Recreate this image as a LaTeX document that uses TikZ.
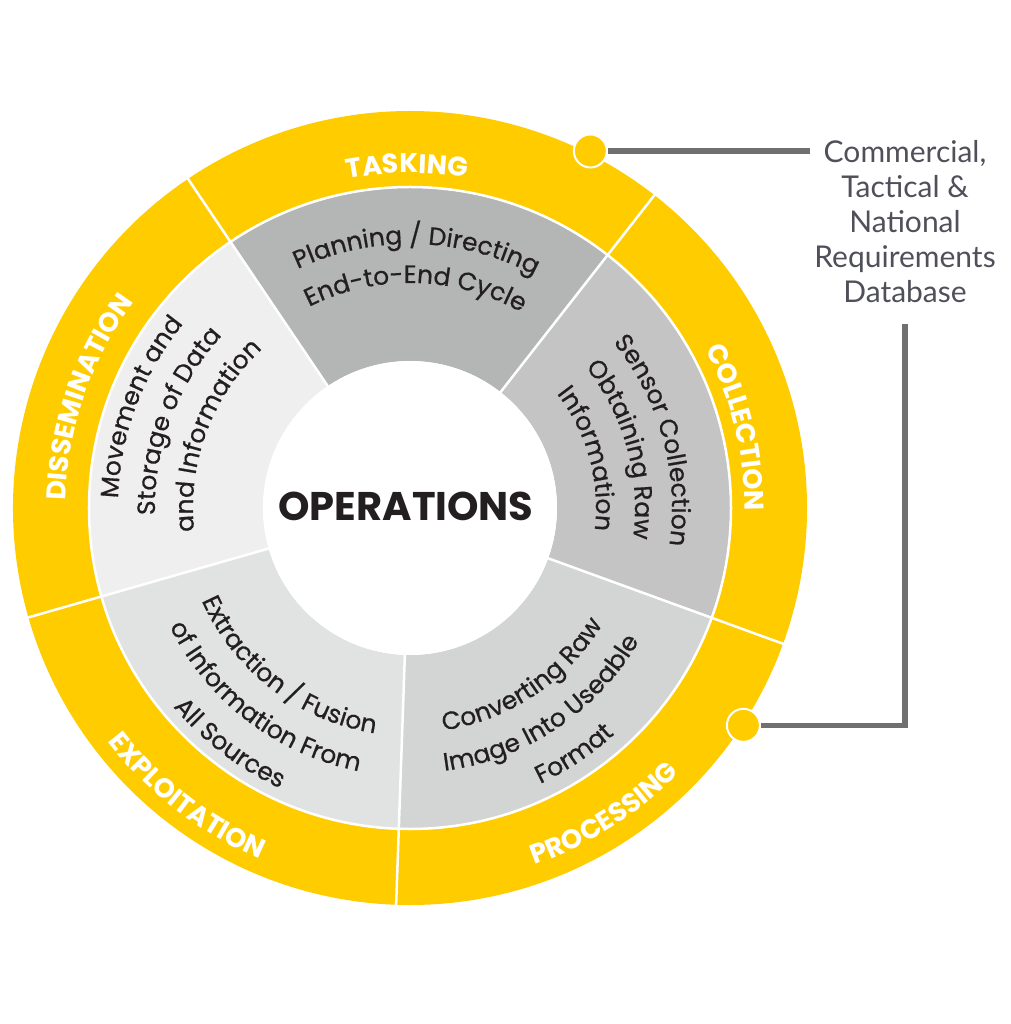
\documentclass[tikz,border=0pt]{standalone}
\usepackage{fontspec}
\setmainfont{Poppins}
\newfontfamily\dbfont{Lato}
\newfontfamily\innerfamily{Poppins}[FakeBold=0.6]
\usetikzlibrary{decorations.text}
\definecolor{ringyellow}{RGB}{255,204,0}
\definecolor{segA}{RGB}{180,181,181}
\definecolor{segB}{RGB}{196,196,196}
\definecolor{segC}{RGB}{211,213,213}
\definecolor{segD}{RGB}{225,226,226}
\definecolor{segE}{RGB}{239,239,239}
\definecolor{inkdark}{RGB}{35,31,32}
\definecolor{dbgray}{RGB}{80,80,90}
\definecolor{conngray}{RGB}{112,112,112}
\newcommand\mysector[5]{\fill[#1] (#2:#4pt) arc[start angle=#2, end angle=#3, radius=#4pt] -- (#3:#5pt) arc[start angle=#3, end angle=#2, radius=#5pt] -- cycle;}
\newcommand\innerfnt{\innerfamily\fontsize{25}{25}\selectfont}
\newcommand\ringfnt{\fontsize{27}{27}\selectfont\bfseries}
% clockwise arc text (tops outward): radius, centre angle, text, colour
\newcommand\cwtext[4]{\path[decorate, decoration={text along path, text align=center, text color=#4, text={#3}}] ({#2+80}:#1pt) arc[start angle={#2+80}, end angle={#2-80}, radius=#1pt];}
% counter-clockwise arc text (tops inward)
\newcommand\ccwtext[4]{\path[decorate, decoration={text along path, text align=center, text color=#4, text={#3}}] ({#2-80}:#1pt) arc[start angle={#2-80}, end angle={#2+80}, radius=#1pt];}
\begin{document}
\begin{tikzpicture}[x=1pt,y=1pt,
  conn/.style={draw=conngray, line width=5.5pt},
  dotnode/.style={circle, fill=ringyellow, draw=white, line width=2pt, minimum size=33pt, inner sep=0pt}]
\useasboundingbox (-410,-516) rectangle (600,508);
\fill[white] (-410,-516) rectangle (600,508);
% outer yellow ring
\mysector{ringyellow}{52}{124}{320}{397}
\mysector{ringyellow}{-20}{52}{320}{397}
\mysector{ringyellow}{-92}{-20}{320}{397}
\mysector{ringyellow}{196}{268}{320}{397}
\mysector{ringyellow}{124}{196}{320}{397}
% inner grey ring
\mysector{segA}{52}{124}{147}{320}
\mysector{segB}{-20}{52}{147}{320}
\mysector{segC}{-92}{-20}{147}{320}
\mysector{segD}{196}{268}{147}{320}
\mysector{segE}{124}{196}{147}{320}
% white dividers
\foreach \a in {52,124,196,268,340} \draw[white, line width=2.5pt] (\a:140pt) -- (\a:400pt);
\draw[white, line width=2.5pt] (0,0) circle[radius=321pt];
\node[circle, fill=white, minimum size=294pt, inner sep=0pt] (core) at (0,0) {};
\node[font=\fontsize{40}{40}\selectfont\bfseries, text=inkdark, inner sep=0pt] (ops) at (-4,2) {OPERATIONS};
% ring labels
\cwtext{335}{90.5}{|\ringfnt|TASKING}{white}
\cwtext{335}{13.9}{|\ringfnt|COLLECTION}{white}
\ccwtext{378}{-57.6}{|\ringfnt|PROCESSING}{white}
\ccwtext{382}{232.3}{|\ringfnt|EXPLOITATION}{white}
\cwtext{344}{161}{|\ringfnt|DISSEMINATION}{white}
% inner texts
\cwtext{264}{88.5}{|\innerfnt|Planning / Directing}{inkdark}
\cwtext{225}{88.5}{|\innerfnt|End-to-End Cycle}{inkdark}
\cwtext{262}{15.5}{|\innerfnt|Sensor Collection}{inkdark}
\cwtext{225}{15.5}{|\innerfnt|Obtaining Raw}{inkdark}
\cwtext{186}{15.5}{|\innerfnt|Information}{inkdark}
\ccwtext{225}{-56.3}{|\innerfnt|Converting Raw}{inkdark}
\ccwtext{265}{-56.3}{|\innerfnt|Image Into Useable}{inkdark}
\ccwtext{305}{-56.3}{|\innerfnt|Format}{inkdark}
\ccwtext{228}{232.6}{|\innerfnt|Extraction / Fusion}{inkdark}
\ccwtext{268}{232.6}{|\innerfnt|of Information From}{inkdark}
\ccwtext{309}{232.6}{|\innerfnt|All Sources}{inkdark}
\cwtext{292}{159.5}{|\innerfnt|Movement and}{inkdark}
\cwtext{255}{159.5}{|\innerfnt|Storage of Data}{inkdark}
\cwtext{217}{159.5}{|\innerfnt|and Information}{inkdark}
% database text and connectors
\node[font=\dbfont\fontsize{30}{35}\selectfont, text=dbgray, align=center, anchor=north, inner sep=4pt] (db) at (495,372) {Commercial,\\Tactical \&\\National\\Requirements\\Database};
\node[dotnode] (dot1) at (63.2:400pt) {};
\node[dotnode] (dot2) at (-33.1:398pt) {};
\draw[conn] (dot1) -- (dot1 -| db.west);
\draw[conn, shorten <=17pt] (db.south) -- (db.south |- dot2) -- (dot2);
\end{tikzpicture}
\end{document}
